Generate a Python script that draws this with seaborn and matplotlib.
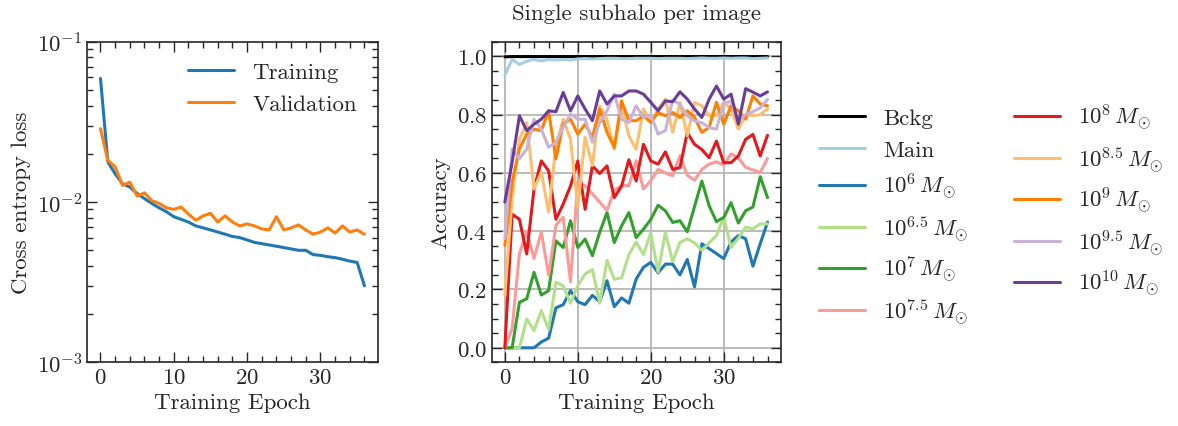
import numpy as np
import pandas as pd
from matplotlib import pyplot as plt
from matplotlib.ticker import AutoMinorLocator
import seaborn as sb

epochs = list(range(37))

# loss curves (left panel)
train_loss = [0.059, 0.0178, 0.015, 0.013, 0.0124, 0.0113, 0.0105, 0.0098, 0.0092, 0.0087,
              0.0081, 0.0078, 0.0075, 0.0071, 0.0069, 0.0067, 0.0065, 0.0063, 0.0061, 0.0060,
              0.0058, 0.0056, 0.0055, 0.0054, 0.0053, 0.0052, 0.0051, 0.0050, 0.0050, 0.0047,
              0.00465, 0.00456, 0.0045, 0.0044, 0.00428, 0.0042, 0.0030]
val_loss = [0.0287, 0.0182, 0.0166, 0.0127, 0.0133, 0.0109, 0.0114, 0.0102, 0.0098, 0.0092,
            0.0090, 0.0093, 0.0084, 0.0077, 0.0082, 0.0085, 0.0075, 0.0082, 0.0075, 0.0071,
            0.0073, 0.0071, 0.0068, 0.0067, 0.0081, 0.0067, 0.0069, 0.0072, 0.0067, 0.0063,
            0.0065, 0.0069, 0.0064, 0.0071, 0.0065, 0.0067, 0.0063]

# accuracy per class (right panel)
acc_bckg = [0.998, 0.999, 0.999, 0.999, 0.999, 0.999, 0.999, 0.999, 0.999, 0.999,
            0.999, 0.999, 0.999, 0.999, 0.999, 0.999, 0.999, 0.999, 0.999, 0.999,
            0.999, 0.999, 0.999, 0.999, 0.999, 0.999, 0.999, 0.999, 0.999, 0.999,
            0.999, 0.999, 0.999, 0.999, 0.999, 0.999, 0.999]
acc_main = [0.935, 0.989, 0.972, 0.983, 0.989, 0.984, 0.989, 0.987, 0.989, 0.987,
            0.991, 0.992, 0.991, 0.992, 0.993, 0.993, 0.992, 0.992, 0.993, 0.993,
            0.993, 0.992, 0.993, 0.993, 0.993, 0.992, 0.993, 0.994, 0.993, 0.993,
            0.994, 0.993, 0.994, 0.994, 0.992, 0.993, 0.994]
acc_m6 = [0, 0, 0, 0, 0, 0.02, 0.033, 0.137, 0.148, 0.196,
          0.158, 0.148, 0.18, 0.158, 0.23, 0.141, 0.171, 0.153, 0.236, 0.276,
          0.293, 0.257, 0.287, 0.287, 0.25, 0.303, 0.209, 0.357, 0.34, 0.323,
          0.306, 0.363, 0.385, 0.374, 0.28, 0.357, 0.431]
acc_m65 = [0, 0, 0, 0.099, 0.059, 0.128, 0.063, 0.225, 0.213, 0.153,
           0.213, 0.253, 0.268, 0.153, 0.30, 0.235, 0.24, 0.32, 0.362, 0.32,
           0.395, 0.26, 0.395, 0.296, 0.361, 0.374, 0.36, 0.334, 0.36, 0.385,
           0.448, 0.344, 0.376, 0.414, 0.408, 0.425, 0.425]
acc_m7 = [0, 0, 0.156, 0.168, 0.259, 0.181, 0.196, 0.367, 0.344, 0.436,
          0.344, 0.373, 0.316, 0.396, 0.464, 0.361, 0.418, 0.464, 0.378, 0.407,
          0.44, 0.489, 0.47, 0.43, 0.436, 0.398, 0.485, 0.572, 0.487, 0.433,
          0.447, 0.498, 0.428, 0.47, 0.483, 0.587, 0.515]
acc_m75 = [0, 0.066, 0.323, 0.4, 0.306, 0.397, 0.249, 0.42, 0.448, 0.226,
           0.568, 0.556, 0.528, 0.5, 0.471, 0.54, 0.556, 0.556, 0.642, 0.545,
           0.573, 0.612, 0.6, 0.59, 0.659, 0.592, 0.575, 0.612, 0.63, 0.638,
           0.627, 0.665, 0.652, 0.619, 0.61, 0.601, 0.65]
acc_m8 = [0, 0.458, 0.441, 0.322, 0.544, 0.641, 0.607, 0.441, 0.493, 0.555,
          0.641, 0.475, 0.624, 0.598, 0.624, 0.515, 0.555, 0.645, 0.572, 0.698,
          0.641, 0.63, 0.672, 0.612, 0.618, 0.738, 0.698, 0.68, 0.652, 0.709,
          0.635, 0.635, 0.658, 0.715, 0.732, 0.658, 0.729]
acc_m85 = [0.18, 0.51, 0.716, 0.773, 0.545, 0.602, 0.465, 0.693, 0.784, 0.716,
           0.482, 0.722, 0.625, 0.83, 0.784, 0.681, 0.83, 0.727, 0.681, 0.819,
           0.773, 0.819, 0.853, 0.739, 0.842, 0.727, 0.842, 0.83, 0.796, 0.796,
           0.842, 0.819, 0.75, 0.800, 0.796, 0.8, 0.819]
acc_m9 = [0.351, 0.568, 0.682, 0.733, 0.75, 0.745, 0.813, 0.648, 0.767, 0.784,
          0.733, 0.767, 0.722, 0.819, 0.739, 0.688, 0.847, 0.779, 0.779, 0.796,
          0.773, 0.807, 0.796, 0.807, 0.79, 0.813, 0.79, 0.739, 0.756, 0.842,
          0.767, 0.83, 0.813, 0.784, 0.864, 0.836, 0.83]
acc_m95 = [0.374, 0.682, 0.648, 0.682, 0.784, 0.75, 0.688, 0.705, 0.756, 0.802,
           0.784, 0.784, 0.705, 0.773, 0.813, 0.87, 0.784, 0.773, 0.83, 0.79,
           0.8, 0.733, 0.745, 0.85, 0.835, 0.795, 0.778, 0.772, 0.755, 0.75,
           0.84, 0.845, 0.778, 0.8, 0.81, 0.823, 0.852]
acc_m10 = [0.5, 0.636, 0.796, 0.745, 0.767, 0.784, 0.813, 0.81, 0.876, 0.813,
           0.864, 0.819, 0.779, 0.881, 0.836, 0.864, 0.864, 0.881, 0.881, 0.87,
           0.842, 0.813, 0.847, 0.844, 0.878, 0.853, 0.819, 0.79, 0.853, 0.898,
           0.853, 0.87, 0.767, 0.889, 0.877, 0.864, 0.878]

class_labels = ["Bckg", "Main",
                r"$10^{6}\,M_{\odot}$", r"$10^{6.5}\,M_{\odot}$", r"$10^{7}\,M_{\odot}$",
                r"$10^{7.5}\,M_{\odot}$", r"$10^{8}\,M_{\odot}$", r"$10^{8.5}\,M_{\odot}$",
                r"$10^{9}\,M_{\odot}$", r"$10^{9.5}\,M_{\odot}$", r"$10^{10}\,M_{\odot}$"]
class_acc = [acc_bckg, acc_main, acc_m6, acc_m65, acc_m7, acc_m75,
             acc_m8, acc_m85, acc_m9, acc_m95, acc_m10]
class_colors = ["black"] + sb.color_palette("Paired", 10)


def style_axis(ax):
    ax.tick_params(which="both", direction="in", top=True, right=True, width=1.0)
    ax.tick_params(which="major", length=7)
    ax.tick_params(which="minor", length=4)
    for sp in ax.spines.values():
        sp.set_linewidth(1.2)


def main():
    sb.set_style("ticks")
    plt.rcParams["font.family"] = "serif"
    plt.rcParams["font.serif"] = ["cmr10"]
    plt.rcParams["mathtext.fontset"] = "cm"
    plt.rcParams["axes.formatter.use_mathtext"] = True
    plt.rcParams["font.size"] = 16.5

    fig = plt.figure(figsize=(11.78, 4.27), dpi=100)
    ax1 = fig.add_axes([0.0741, 0.149, 0.2465, 0.751])
    ax2 = fig.add_axes([0.4174, 0.149, 0.2453, 0.751])

    # left: loss
    df_loss = pd.DataFrame({"epoch": epochs, "Training": train_loss, "Validation": val_loss})
    df_loss = pd.melt(df_loss, id_vars=["epoch"], var_name="set", value_name="loss")
    sb.lineplot(data=df_loss, x="epoch", y="loss", hue="set",
                palette=["#1f77b4", "#ff7f0e"], lw=2.2, ax=ax1)
    ax1.set_yscale("log")
    ax1.set_ylim(1e-3, 1e-1)
    ax1.xaxis.set_minor_locator(AutoMinorLocator(5))
    ax1.set_xlabel("Training Epoch")
    ax1.set_ylabel("Cross entropy loss")
    ax1.legend(frameon=False, loc="upper right")
    style_axis(ax1)

    # right: accuracy per class
    df_acc = pd.DataFrame({"epoch": epochs})
    for lab, vals in zip(class_labels, class_acc):
        df_acc[lab] = vals
    df_acc = pd.melt(df_acc, id_vars=["epoch"], var_name="cls", value_name="acc")
    sb.lineplot(data=df_acc, x="epoch", y="acc", hue="cls", hue_order=class_labels,
                palette=dict(zip(class_labels, class_colors)), lw=2.2, ax=ax2)
    ax2.set_xlim(-1.8, 37.8)
    ax2.set_ylim(-0.05, 1.05)
    ax2.xaxis.set_minor_locator(AutoMinorLocator(5))
    ax2.yaxis.set_minor_locator(AutoMinorLocator(4))
    ax2.grid(True, which="major", color="#b0b0b0", lw=1.2)
    ax2.set_xlabel("Training Epoch")
    ax2.set_ylabel("Accuracy")
    ax2.set_title("Single subhalo per image", fontsize=16.5, pad=16)
    sb.move_legend(ax2, "upper left", bbox_to_anchor=(1.062, 0.876), ncol=2,
                   frameon=False, title=None)
    style_axis(ax2)

    fig.savefig("out.png", dpi=100)


if __name__ == "__main__":
    main()
